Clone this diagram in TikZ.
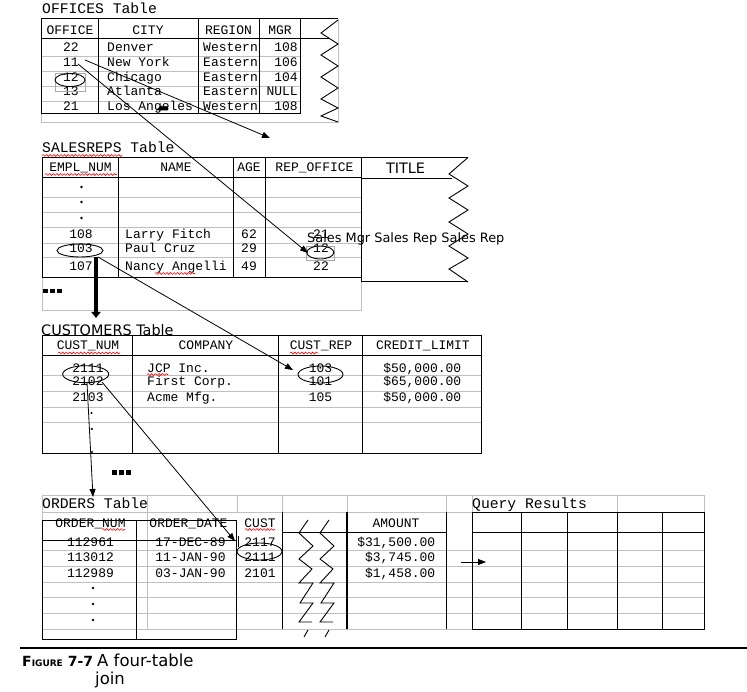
\documentclass[tikz,border=0pt]{standalone}
\usepackage{fontspec}
\setmainfont{DejaVu Sans}
\newfontfamily\monofam{Liberation Mono}
\usetikzlibrary{arrows.meta,shapes.geometric,decorations.pathmorphing}
\definecolor{gridgray}{RGB}{192,192,192}
\definecolor{rectgray}{RGB}{170,170,170}
\tikzset{
  td/.style={font=\monofam\fontsize{13}{13}\selectfont, inner sep=0pt, anchor=base},
  tdw/.style={td, anchor=base west},
  tde/.style={td, anchor=base east},
  ttl/.style={font=\monofam\fontsize{14.7}{15}\selectfont, inner sep=0pt, anchor=base west},
  gline/.style={draw=gridgray, line width=0.9pt},
  bline/.style={draw=black, line width=1pt},
  oval/.style={draw=black, ellipse, line width=0.9pt, inner sep=0pt},
  arr/.style={draw=black, line width=0.8pt, -{Triangle[length=8pt,width=6pt]}},
  squig/.style={draw=red, line width=0.6pt, decorate, decoration={snake, amplitude=0.9pt, segment length=3.6pt}},
  bdot/.style={circle, fill=black, inner sep=0pt, minimum size=2.8pt},
  zig/.style={draw=black, line width=0.9pt, line join=miter},
}
\begin{document}
\begin{tikzpicture}[x=1pt,y=-1pt]
\fill[white] (0,0) rectangle (747,692);
\useasboundingbox (0,0) rectangle (747,692);

% ================= OFFICES =================
\node[ttl] (offT) at (42,13.5) {OFFICES Table};
\draw[gline] (41,39) -- (41,122) -- (338,122) -- (338,19);
\foreach \y in {56,71,86,101} \draw[gline] (41,\y) -- (300,\y);
\draw[bline] (41,19) -- (338,19);
\draw[bline] (41,19) rectangle (300,114);
\draw[bline] (41,39) -- (329,39);
\foreach \x in {98,198,259} \draw[bline] (\x,19) -- (\x,114);
\draw[zig] (338,20) -- (321,33) -- (338,44) -- (321,55) -- (338,66) -- (321,77) -- (338,88) -- (321,99) -- (338,108) -- (321,116) -- (338,122);
\node[td] (hOffice) at (70,34.5) {OFFICE};
\node[td] (hCity) at (148,34.5) {CITY};
\node[td] (hRegion) at (228.5,34.5) {REGION};
\node[td] (hMgr) at (280,34.5) {MGR};
\foreach \yb/\pa/\pb/\pc/\pd/\n in {51.5/22/Denver/Western/108/1, 66.5/11/New York/Eastern/106/2, 82/12/Chicago/Eastern/104/3, 95.5/13/Atlanta/Eastern/NULL/4, 111/21/Los Angeles/Western/108/5}{
  \node[td] (oa\n) at (71,\yb) {\pa};
  \node[tdw] (ob\n) at (107,\yb) {\pb};
  \node[tdw] (oc\n) at (203,\yb) {\pc};
  \node[tde] (od\n) at (298,\yb) {\pd};
}
\draw[rectgray, line width=0.6pt] (55,73) rectangle (85,91);
\node[oval, minimum width=30pt, minimum height=13pt] (eOff12) at (70,80) {};
\fill (156,110.5) -- (161,105.5) -- (163,107) -- (168,107) -- (168,110.5) -- cycle;

% ================= SALESREPS =================
\node[ttl] (srT) at (42,152.5) {SALESREPS Table};
\draw[squig] (42,155.5) -- (122,155.5);
\draw[gline] (42,278) -- (42,310) -- (361,310) -- (361,278);
\foreach \y in {197,212,227,243,257} \draw[gline] (42,\y) -- (361,\y);
\draw[bline] (42,157.5) rectangle (361,278);
\draw[bline] (42,178) -- (361,178);
\foreach \x in {118,233,265} \draw[bline] (\x,157.5) -- (\x,278);
\draw[bline] (361,157.5) -- (468,157.5);
\draw[bline] (361,179) -- (452,179);
\draw[bline] (361,278) -- (361,282) -- (468,282);
\draw[zig] (468,157.5) -- (449,174) -- (468,186) -- (449,198) -- (468,210) -- (449,222) -- (468,234) -- (449,246) -- (468,258) -- (449,269) -- (468,282);
\node[td] (hEmpl) at (80.5,171.5) {EMPL\_NUM};
\draw[squig] (45,174.5) -- (117,174.5);
\node[td] (hName) at (176,171.5) {NAME};
\node[td] (hAge) at (249,171.5) {AGE};
\node[td] (hRepOff) at (314.5,171.5) {REP\_OFFICE};
\node[font=\fontsize{14.4}{15}\selectfont, inner sep=0pt, anchor=base] (hTitle) at (405.5,174) {TITLE};
\node[bdot] (sd1) at (81.5,187) {};
\node[bdot] (sd2) at (81.5,202) {};
\node[bdot] (sd3) at (81.5,218) {};
\foreach \yb/\pa/\pb/\pc/\pd/\n in {238.5/108/Larry Fitch/62/21/1, 253/103/Paul Cruz/29/12/2, 270.5/107/Nancy Angelli/49/22/3}{
  \node[td] (sa\n) at (81,\yb) {\pa};
  \node[tdw] (sb\n) at (125,\yb) {\pb};
  \node[td] (sc\n) at (249,\yb) {\pc};
  \node[td] (sdv\n) at (321,\yb) {\pd};
}
\draw[squig] (155,273.5) -- (195,273.5);
\node[font=\fontsize{12.9}{13}\selectfont, inner sep=0pt, anchor=base west] (titles) at (307,242.4) {Sales Mgr Sales Rep Sales Rep};
\draw[rectgray, line width=0.6pt] (306,246) rectangle (334,260);
\node[oval, minimum width=27pt, minimum height=13pt] (eRep12) at (320.3,252.5) {};
\node[oval, minimum width=46pt, minimum height=13pt] (e103) at (80,250.5) {};
\fill (43,289) rectangle (47.5,293.5);
\fill (50,289) rectangle (54.5,293.5);
\fill (57,289) rectangle (61.5,293.5);

% ================= CUSTOMERS =================
\node[font=\fontsize{14.4}{15}\selectfont, inner sep=0pt, anchor=base west] (cuT) at (41,336) {CUSTOMERS Table};
\foreach \y in {375,391,407,422} \draw[gline] (42,\y) -- (481,\y);
\draw[bline] (42,336) rectangle (481,453);
\draw[bline] (42,356) -- (481,356);
\foreach \x in {132,278,362} \draw[bline] (\x,336) -- (\x,453);
\node[td] (hCustNum) at (88,350) {CUST\_NUM};
\draw[squig] (58,353) -- (120,353);
\node[td] (hCompany) at (206,350) {COMPANY};
\node[td] (hCustRep) at (321,350) {CUST\_REP};
\draw[squig] (290,353) -- (318,353);
\node[td] (hCredit) at (423,350) {CREDIT\_LIMIT};
\foreach \yb/\pa/\pb/\pc/\pd/\n in {372.5/2111/JCP Inc./103/{\$50,000.00}/1, 386/2102/First Corp./101/{\$65,000.00}/2, 402/2103/Acme Mfg./105/{\$50,000.00}/3}{
  \node[td] (ca\n) at (88,\yb) {\pa};
  \node[tdw] (cb\n) at (147,\yb) {\pb};
  \node[td] (cc\n) at (320.5,\yb) {\pc};
  \node[tde] (cd\n) at (461.5,\yb) {\pd};
}
\draw[squig] (147,374.5) -- (168,374.5);
\node[oval, minimum width=46pt, minimum height=17pt] (e2111) at (85.7,374.2) {};
\node[oval, minimum width=45pt, minimum height=17pt] (eCR) at (320.5,374.5) {};
\node[bdot, minimum size=2.4pt] (cdt1) at (91.5,413) {};
\node[bdot, minimum size=2.4pt] (cdt2) at (91.8,429) {};
\node[bdot, minimum size=2.4pt] (cdt3) at (92,452) {};
\fill (112,470) rectangle (116.5,474.5);
\fill (119,470) rectangle (123.5,474.5);
\fill (126,470) rectangle (130.5,474.5);

% ================= ORDERS + QUERY RESULTS =================
\draw[gline] (42,495) -- (704,495);
\draw[gline] (42,512) -- (472,512);
\foreach \y in {550,566,582,597,613,629} \draw[gline] (42,\y) -- (704,\y);
\foreach \x in {42,147} \draw[gline] (\x,495) -- (\x,629);
\foreach \x in {237,282,347,446,472,617,704} \draw[gline] (\x,495) -- (\x,512);
\node[ttl] (orT) at (42,508) {ORDERS Table};
\node[ttl] (qrT) at (472,508) {Query Results};
% black boxes of ORDER_NUM / ORDER_DATE
\draw[bline] (42,520) rectangle (136,639);
\draw[bline] (136,520) rectangle (236,639);
\draw[bline] (42,540) -- (236,540);
\draw[bline] (238,536) -- (238,547);
\draw[bline] (282,512) -- (282,629);
\draw[bline] (282,532) -- (446,532);
\draw[bline] (446,512) -- (446,629);
\draw[black, line width=2.6pt] (347,512) -- (347,629);
% zigzags
\draw[zig] (308,520) -- (299,533) -- (313,546) -- (299,559) -- (312,569) -- (299,583) -- (313,583) -- (300,603) -- (313,603) -- (299,622) -- (312,622);
\draw[zig] (308,630) -- (304,637);
\draw[zig] (329,520) -- (320,533) -- (334,546) -- (320,559) -- (333,569) -- (320,583) -- (334,583) -- (321,603) -- (334,603) -- (320,622) -- (333,622);
\draw[zig] (329,630) -- (325,637);
% query results
\draw[bline] (472,512) rectangle (704,629);
\draw[bline] (472,532) -- (704,532);
\foreach \x in {521,567,617,662} \draw[bline] (\x,512) -- (\x,629);
% headers
\node[td] (hOrdNum) at (90.5,527) {ORDER\_NUM};
\draw[squig] (102,529.5) -- (125,529.5);
\node[td] (hOrdDate) at (188.5,527) {ORDER\_DATE};
\node[td] (hCust) at (260,527) {CUST};
\draw[squig] (245,529.5) -- (275,529.5);
\node[td] (hAmount) at (396,527) {AMOUNT};
\foreach \yb/\pa/\pb/\pc/\pd/\n in {546.5/112961/17-DEC-89/2117/{\$31,500.00}/1, 561.5/113012/11-JAN-90/2111/{\$3,745.00}/2, 577.5/112989/03-JAN-90/2101/{\$1,458.00}/3}{
  \node[td] (ra\n) at (90.5,\yb) {\pa};
  \node[td] (rb\n) at (190.5,\yb) {\pb};
  \node[td] (rc\n) at (260,\yb) {\pc};
  \node[tde] (rd\n) at (435.5,\yb) {\pd};
}
\node[oval, minimum width=45pt, minimum height=17pt] (eCust) at (259.5,551.5) {};
\node[bdot] (od1) at (93,588) {};
\node[bdot] (od2) at (93,604) {};
\node[bdot] (od3) at (93,620) {};

% ================= CONNECTORS =================
\coordinate (c11a) at (78,64);
\coordinate (c12tip) at (308,253);
\coordinate (c11b) at (85,60);
\coordinate (cfree) at (270,138);
\coordinate (c103s) at (98,257);
\coordinate (ccrtip) at (293,370);
\coordinate (c2102a) at (87,383);
\coordinate (cordtip) at (93,497);
\coordinate (c2102b) at (102,382);
\coordinate (ccusttip) at (235,541);
\coordinate (cthickS) at (96,257);
\coordinate (cthickE) at (96,318);
\coordinate (cqrS) at (461,562);
\coordinate (cqrE) at (486,562);
\draw[arr] (c11a) -- (c12tip);
\draw[arr] (c11b) -- (cfree);
\draw[arr] (c103s) -- (ccrtip);
\draw[arr] (c2102a) -- (cordtip);
\draw[arr] (c2102b) -- (ccusttip);
\draw[black, line width=3.4pt, -{Triangle[length=6pt,width=9pt]}] (cthickS) -- (cthickE);
\draw[arr] (cqrS) -- (cqrE);

% ================= CAPTION =================
\draw[black, line width=2pt] (20,648) -- (747,648);
\node[anchor=base west, inner sep=0pt] (capA) at (22,666) {\bfseries\fontsize{14}{14}\selectfont F\fontsize{9}{9}\selectfont IGURE\fontsize{14}{14}\selectfont{} 7-7};
\node[anchor=base west, inner sep=0pt] (capB) at (97,666) {\fontsize{16.5}{17}\selectfont A four-table};
\node[anchor=base west, inner sep=0pt] (capC) at (95,684) {\fontsize{16.5}{17}\selectfont join};
\end{tikzpicture}
\end{document}
